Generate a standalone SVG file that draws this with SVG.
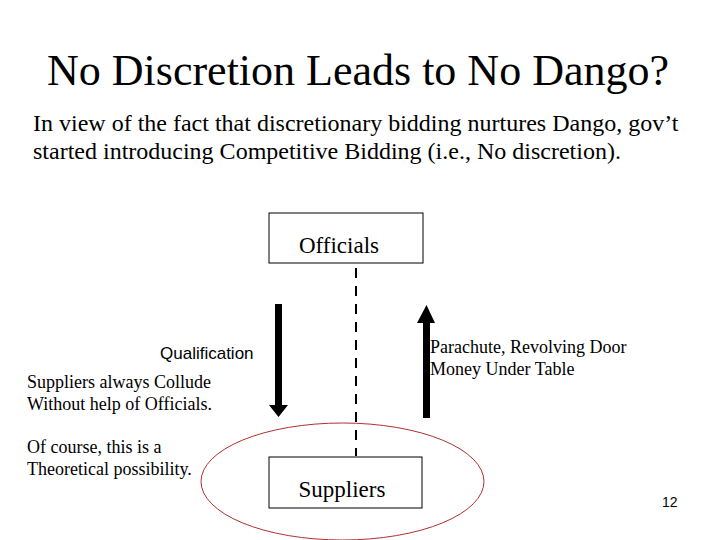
<svg xmlns="http://www.w3.org/2000/svg" width="720" height="540" viewBox="0 0 720 540">
<defs>
<style>
text.serif{font-family:'Times New Roman','Liberation Serif','DejaVu Serif',serif;fill:#000}
text.sans{font-family:'Liberation Sans',Arial,sans-serif;fill:#000}
.box{fill:#fff;stroke:#000;stroke-width:1}
</style>
</defs>
<rect width="720" height="540" fill="#fff"/>
<text class="serif" x="358" y="85" font-size="44" text-anchor="middle">No Discretion Leads to No Dango?</text>
<text class="serif" x="33" y="131" font-size="24">In view of the fact that discretionary bidding nurtures Dango, gov’t</text>
<text class="serif" x="33" y="159" font-size="24">started introducing Competitive Bidding (i.e., No discretion).</text>
<g id="supplier-ellipse">
<ellipse cx="342.5" cy="481.5" rx="141.5" ry="58.5" fill="none" stroke="#b03030" stroke-width="1"/>
</g>
<g id="connectors">
<line x1="356" y1="268" x2="356" y2="456" stroke="#000" stroke-width="2" stroke-dasharray="10,8"/>
<polygon points="275,304 282,304 282,405 288,405 278.5,417 269,405 275,405" fill="#000"/>
<polygon points="423,418 430,418 430,323 435,323 426.5,305 417,323 423,323" fill="#000"/>
</g>
<g id="officials">
<rect class="box" x="269" y="213" width="154" height="50"/>
<text class="serif" x="339" y="253" font-size="23" text-anchor="middle">Officials</text>
</g>
<g id="suppliers">
<rect class="box" x="269" y="457" width="153" height="51"/>
<text class="serif" x="342" y="497" font-size="23" text-anchor="middle">Suppliers</text>
</g>
<text class="sans" x="160" y="359" font-size="17">Qualification</text>
<text class="serif" x="27" y="388" font-size="18">Suppliers always Collude</text>
<text class="serif" x="27" y="410" font-size="18">Without help of Officials.</text>
<text class="serif" x="27" y="453" font-size="18">Of course, this is a</text>
<text class="serif" x="27" y="475" font-size="18">Theoretical possibility.</text>
<text class="serif" x="430" y="353" font-size="18">Parachute, Revolving Door</text>
<text class="serif" x="430" y="375" font-size="18">Money Under Table</text>
<text class="sans" x="662" y="507" font-size="14">12</text>
</svg>
